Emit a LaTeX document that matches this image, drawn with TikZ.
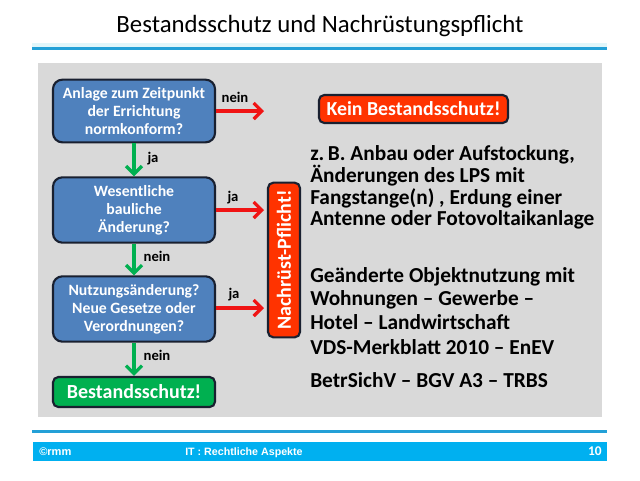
\documentclass[tikz,border=0pt]{standalone}
\usepackage{fontspec}
\setmainfont{Carlito}
\newfontfamily\arialfont{Liberation Sans}
\usetikzlibrary{arrows.meta}
\definecolor{boxblue}{RGB}{79,129,189}
\definecolor{boxedge}{RGB}{25,32,48}
\definecolor{okgreen}{RGB}{0,176,80}
\definecolor{warnred}{RGB}{255,51,0}
\definecolor{arrred}{RGB}{240,20,20}
\definecolor{panelgray}{RGB}{217,217,217}
\definecolor{lineblue}{RGB}{35,160,215}
\definecolor{barblue}{RGB}{0,176,240}
\definecolor{glow}{RGB}{225,246,250}
\tikzset{
  qbox/.style={draw=boxedge, line width=1.6pt, fill=boxblue, rounded corners=7pt,
    text=white, font=\bfseries\fontsize{11.8}{13.6}\selectfont, align=center,
    minimum width=121.5pt, minimum height=47pt, inner sep=0pt},
  okbox/.style={draw=boxedge, line width=1.6pt, fill=okgreen, rounded corners=4pt,
    text=white, font=\bfseries\fontsize{15}{17}\selectfont,
    minimum width=121.5pt, minimum height=22.5pt, inner sep=0pt},
  redbox/.style={draw=boxedge, line width=1.6pt, fill=warnred, rounded corners=4pt,
    text=white, font=\bfseries\fontsize{14.9}{16}\selectfont, inner sep=0pt},
  yesarrow/.style={draw=okgreen, line width=2.4pt, -{Straight Barb[length=6pt,width=12pt]}},
  noarrow/.style={draw=arrred, line width=2.4pt, -{Straight Barb[length=6pt,width=12pt]}},
  lbl/.style={font=\bfseries\fontsize{11}{12}\selectfont, text=black, inner sep=0pt},
  info/.style={font=\bfseries\fontsize{16}{16.4}\selectfont, text=black, align=left, anchor=west, inner sep=0pt},
  foot/.style={text=white, inner sep=0pt}
}
\begin{document}
\begin{tikzpicture}[x=0.75pt, y=-0.75pt]
\useasboundingbox (0,0) rectangle (640,480);
\fill[white] (0,0) rectangle (640,480);
% title
\node[font=\fontsize{18.6}{22}\selectfont, inner sep=0pt] (title) at (320,26) {Bestandsschutz und Nachrüstungspflicht};
\fill[glow] (32,43) rectangle (607,46.5);
\fill[lineblue] (32,46.5) rectangle (607,49.5);
% panel
\fill[panelgray] (38,63) rectangle (602,417);
% flow boxes
\node[qbox] (q1) at (134,111) {Anlage zum Zeitpunkt\\der Errichtung\\normkonform?};
\node[qbox, minimum height=49pt] (q2) at (134,210) {Wesentliche\\bauliche\\Änderung?};
\node[qbox, minimum height=49pt] (q3) at (134,309) {Nutzungsänderung?\\Neue Gesetze oder\\Verordnungen?};
\node[okbox] (ok) at (134,392) {Bestandsschutz!};
\node[redbox, minimum width=141.8pt, minimum height=21pt] (kein) at (413.5,109) {Kein Bestandsschutz!};
\node[redbox, minimum width=116pt, minimum height=24pt, rotate=90, font=\bfseries\fontsize{15}{16}\selectfont] (nach) at (284,260) {Nachrüst-Pflicht!};
% free arrow ends
\coordinate (e1) at (264,111);
\coordinate (e2) at (264,210);
\coordinate (e3) at (264,308);
% arrows
\draw[noarrow] (q1.east |- e1) -- (e1);
\draw[noarrow] (q2.east |- e2) -- (e2);
\draw[noarrow] (q3.east |- e3) -- (e3);
\draw[yesarrow] (q1.south) -- (q2.north);
\draw[yesarrow] (q2.south) -- (q3.north);
\draw[yesarrow] (q3.south) -- (ok.north);
% labels
\node[lbl] (l1) at (235,97) {nein};
\node[lbl] (l2) at (153,159) {ja};
\node[lbl] (l3) at (233,198) {ja};
\node[lbl] (l4) at (157,256) {nein};
\node[lbl] (l5) at (234,295) {ja};
\node[lbl] (l6) at (157,355) {nein};
% info texts
\node[info] (t1) at (310,187.5) {z.\,B. Anbau oder Aufstockung,\\Änderungen des LPS mit\\Fangstange(n) , Erdung einer\\Antenne oder Fotovoltaikanlage};
\node[info, font=\bfseries\fontsize{16}{17.5}\selectfont] (t2) at (310,298.5) {Geänderte Objektnutzung mit\\Wohnungen – Gewerbe –\\Hotel – Landwirtschaft};
\node[info] (t3) at (310,347) {VDS-Merkblatt 2010 – EnEV};
\node[info] (t4) at (310,380) {BetrSichV – BGV A3 – TRBS};
% footer
\fill[lineblue] (32,430) rectangle (607,432.5);
\fill[barblue] (33,442) rectangle (607,461);
\node[foot, anchor=base west, font=\arialfont\bfseries\fontsize{8.3}{9}\selectfont] (f1) at (39,455.5) {©rmm};
\node[foot, anchor=base west, font=\arialfont\bfseries\fontsize{8}{9}\selectfont] (f2) at (185,455.5) {IT : Rechtliche Aspekte};
\node[foot, anchor=base east, font=\bfseries\fontsize{10}{11}\selectfont] (f3) at (602,455.5) {10};
\end{tikzpicture}
\end{document}
